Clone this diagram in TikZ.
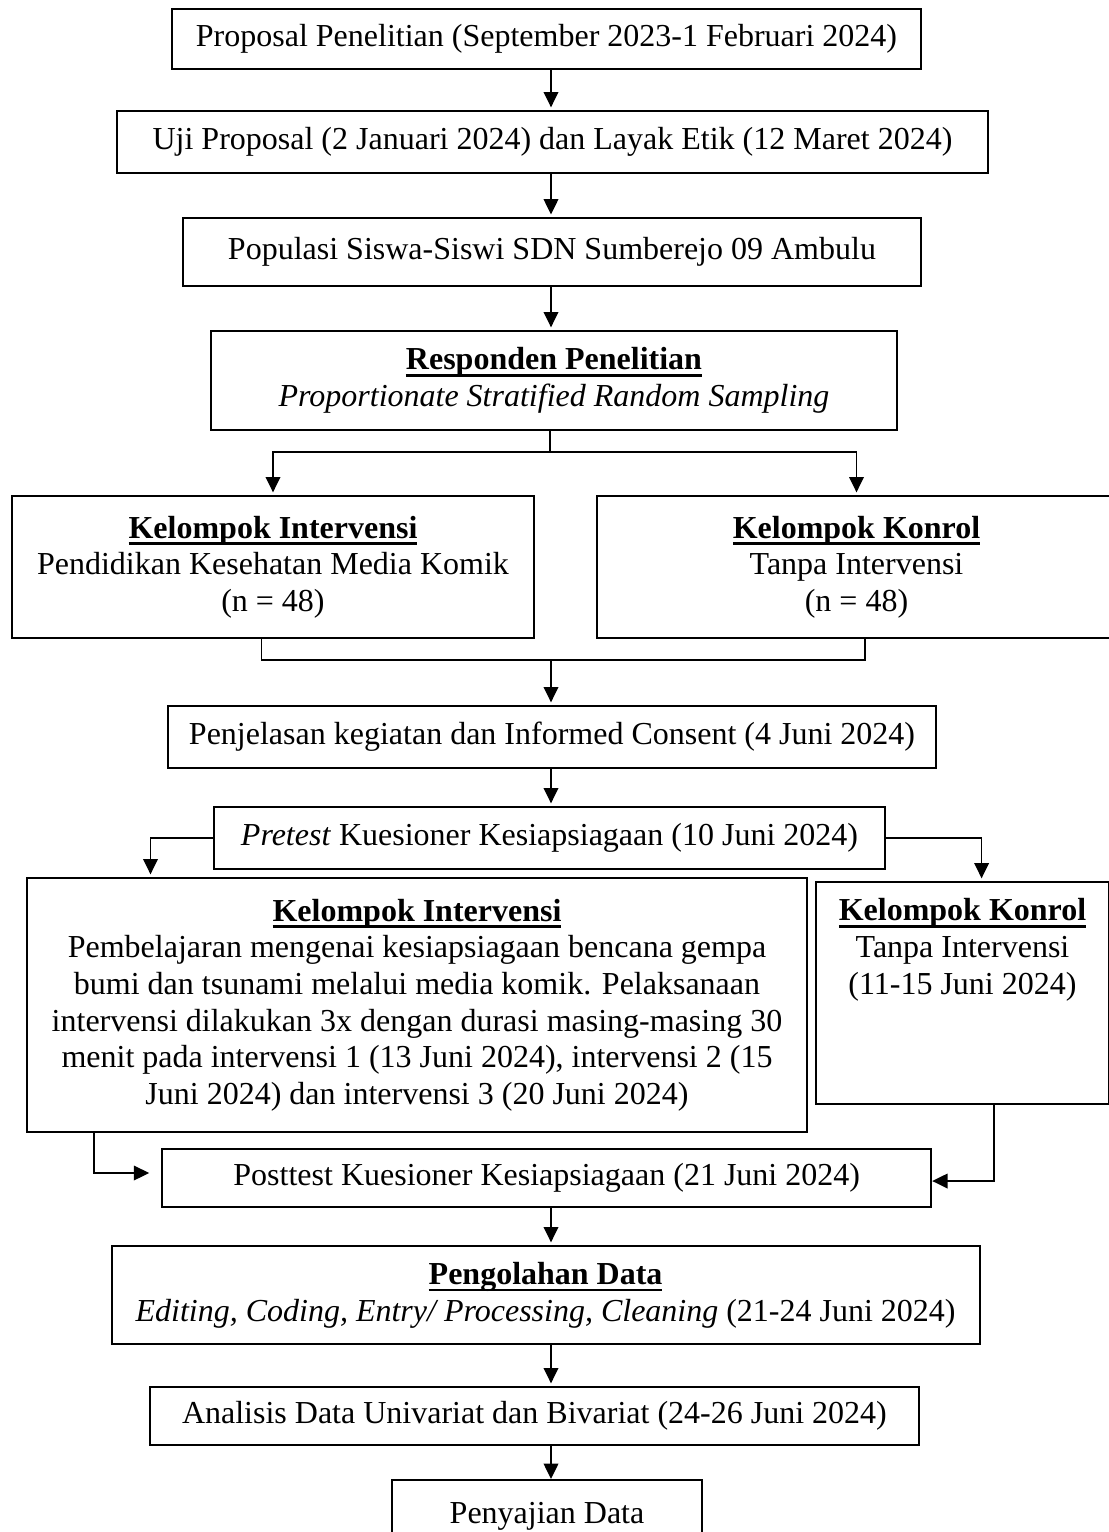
\documentclass[tikz,border=0pt]{standalone}
\usepackage{fontspec}
\setmainfont{Liberation Serif}
\usetikzlibrary{arrows.meta}

\tikzset{every picture/.style={line width=0.75pt}}
\tikzset{
  kotak/.style={draw, rectangle, line width=1.5pt, align=center, font=\fontsize{24}{27.5}\selectfont},
  panah/.style={-{Triangle[length=11.5pt,width=11pt]}, line width=1pt, shorten >=2pt},
  garis/.style={line width=1pt},
}
\newsavebox{\judulbox}
\newcommand{\judul}[1]{\leavevmode\sbox{\judulbox}{\bfseries #1}\rlap{\rule[-5pt]{\wd\judulbox}{1.7pt}}\usebox{\judulbox}}

\begin{document}
\begin{tikzpicture}[x=0.75pt,y=0.75pt,yscale=-1,xscale=1]
    \useasboundingbox (0,0) rectangle (1108,1532);

    % Text Node
    \node [kotak, minimum width=561.75pt, minimum height=45pt] (prop) at (546.5,39.3) {Proposal Penelitian (September 2023-1 Februari 2024)};
    % Text Node
    \node [kotak, minimum width=653.25pt, minimum height=46.5pt] (uji) at (552.5,142) {Uji Proposal (2 Januari 2024) dan Layak Etik (12 Maret 2024)};
    % Text Node
    \node [kotak, minimum width=553.5pt, minimum height=50.75pt] (pop) at (552,252) {Populasi Siswa-Siswi SDN Sumberejo 09 Ambulu};
    % Text Node
    \node [kotak, minimum width=514.9pt, minimum height=74.25pt] (resp) at (554,380.5) {\judul{Responden Penelitian}\\ \textit{Proportionate Stratified Random Sampling}};
    % Text Node
    \node [kotak, minimum width=391.2pt, minimum height=106.5pt] (ki1) at (273,567) {\judul{Kelompok Intervensi}\\ Pendidikan Kesehatan Media Komik\\ (n = 48)};
    % Text Node
    \node [kotak, minimum width=389.25pt, minimum height=106.5pt] (kk1) at (856.5,567) {\judul{Kelompok Konrol}\\ Tanpa Intervensi\\ (n = 48)};
    % Text Node
    \node [kotak, minimum width=576pt, minimum height=46.5pt] (penj) at (552,737) {Penjelasan kegiatan dan Informed Consent (4 Juni 2024)};
    % Text Node
    \node [kotak, minimum width=503.25pt, minimum height=46.5pt] (pre) at (549.5,838) {\textit{Pretest} Kuesioner Kesiapsiagaan (10 Juni 2024)};
    % Text Node
    \node [kotak, minimum width=585pt, minimum height=190.5pt] (ki2) at (417,1005) {\judul{Kelompok Intervensi}\\ Pembelajaran mengenai kesiapsiagaan bencana gempa\\ bumi dan tsunami melalui media komik. Pelaksanaan\\ intervensi dilakukan 3x dengan durasi masing-masing 30\\ menit pada intervensi 1 (13 Juni 2024), intervensi 2 (15\\ Juni 2024) dan intervensi 3 (20 Juni 2024)};
    % Text Node
    \node [kotak, inner sep=0pt] (kk2) at (962.5,993) {\parbox[c][166.5pt][t]{219.75pt}{\centering\vspace*{12.5pt}\judul{Kelompok Konrol}\\ Tanpa Intervensi\\ (11-15 Juni 2024)}};
    % Text Node
    \node [kotak, minimum width=576.75pt, minimum height=43.5pt] (post) at (546.7,1178) {Posttest Kuesioner Kesiapsiagaan (21 Juni 2024)};
    % Text Node
    \node [kotak, minimum width=651pt, minimum height=73.5pt] (peng) at (545.6,1295) {\judul{Pengolahan Data}\\ \textit{Editing, Coding, Entry/ Processing, Cleaning} (21-24 Juni 2024)};
    % Text Node
    \node [kotak, minimum width=576.5pt, minimum height=43.5pt] (anal) at (534.4,1416) {Analisis Data Univariat dan Bivariat (24-26 Juni 2024)};
    % Text Node
    \node [kotak, minimum width=233pt, minimum height=54pt] (peny) at (547,1516) {Penyajian Data};

    \coordinate (tengah) at (551,0);
    \coordinate (cabang) at (550,452);
    \coordinate (gabung) at (551,660);
    \coordinate (kiri) at (150.5,0);
    \coordinate (kanan) at (981.6,0);
    \coordinate (kiri2) at (94,0);
    \coordinate (kanan2) at (994,0);

    %Straight Lines
    \draw [panah] (prop.south -| tengah) -- (uji.north -| tengah);
    \draw [panah] (uji.south -| tengah) -- (pop.north -| tengah);
    \draw [panah] (pop.south -| tengah) -- (resp.north -| tengah);
    \draw [garis] (resp.south -| cabang) -- (cabang);
    \draw [panah] (cabang) -| (ki1.north);
    \draw [panah] (cabang) -| (kk1.north);
    \draw [garis] ([xshift=-8.6pt]ki1.south) |- (gabung) -| ([xshift=6.4pt]kk1.south);
    \draw [panah] (gabung) -- (penj.north -| tengah);
    \draw [panah] (penj.south -| tengah) -- (pre.north -| tengah);
    \draw [panah] (pre.west) -| (ki2.north -| kiri);
    \draw [panah] (pre.east) -| (kk2.north -| kanan);
    \draw [panah, shorten >=9pt] (ki2.south -| kiri2) |- ([yshift=-3.75pt]post.west);
    \draw [panah, shorten >=0pt] (kk2.south -| kanan2) |- ([yshift=2.25pt]post.east);
    \draw [panah] (post.south -| tengah) -- (peng.north -| tengah);
    \draw [panah] (peng.south -| tengah) -- (anal.north -| tengah);
    \draw [panah, shorten >=0pt] (anal.south -| tengah) -- (peny.north -| tengah);

\end{tikzpicture}
\end{document}
